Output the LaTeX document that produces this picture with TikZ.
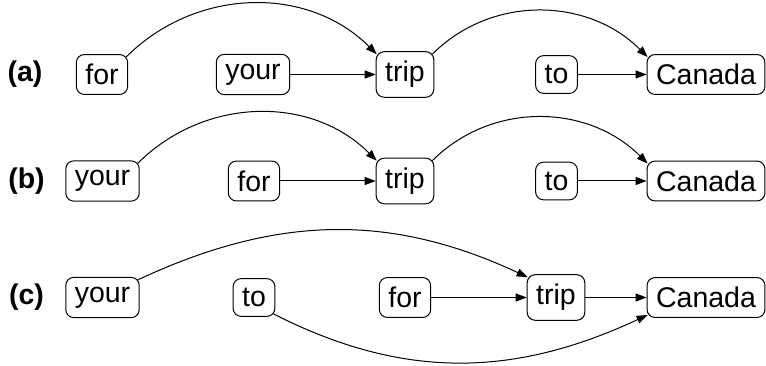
\documentclass[tikz,border=0pt]{standalone}
\usepackage{fontspec}
\setmainfont{Liberation Sans}
\usetikzlibrary{arrows.meta}
\begin{document}
\begin{tikzpicture}[x=1pt,y=1pt,
  word/.style={draw,line width=1pt,rounded corners=8pt,inner xsep=9pt,inner ysep=9.5pt,font=\fontsize{28.5}{30}\selectfont},
  lab/.style={font=\bfseries\fontsize{28.5}{30}\selectfont,inner sep=0pt},
  arr/.style={line width=1pt,-{Triangle[length=11pt,width=8pt]}}]
\useasboundingbox (0,0) rectangle (766,366);
% row a
\node[lab] (la) at (25,291.5) {(a)};
\node[word] (a1) at (102,291.5) {for};
\node[word] (a2) at (253,291.5) {your};
\node[word] (a3) at (405,291.5) {trip};
\node[word] (a4) at (556.5,291.5) {to};
\node[word] (a5) at (706,291.5) {Canada};
\draw[arr] ([xshift=-2pt,yshift=-3pt]a1.north east) to[out=45,in=135] ([xshift=1pt,yshift=-3pt]a3.north west);
\draw[arr] (a2) -- (a3);
\draw[arr] ([xshift=-2pt,yshift=-3pt]a3.north east) to[out=45,in=135] ([xshift=1pt,yshift=-3pt]a5.north west);
\draw[arr] (a4) -- (a5);
% row b
\node[lab] (lb) at (26.5,185) {(b)};
\node[word] (b1) at (102.5,185) {your};
\node[word] (b2) at (254,185) {for};
\node[word] (b3) at (405,185) {trip};
\node[word] (b4) at (556.5,185) {to};
\node[word] (b5) at (706,185) {Canada};
\draw[arr] ([xshift=-2pt,yshift=-3pt]b1.north east) to[out=45,in=135] ([xshift=1pt,yshift=-3pt]b3.north west);
\draw[arr] (b2) -- (b3);
\draw[arr] ([xshift=-2pt,yshift=-3pt]b3.north east) to[out=45,in=135] ([xshift=1pt,yshift=-3pt]b5.north west);
\draw[arr] (b4) -- (b5);
% row c
\node[lab] (lc) at (26.5,68.5) {(c)};
\node[word] (c1) at (102.5,68.5) {your};
\node[word] (c2) at (254,68.5) {to};
\node[word] (c3) at (405,68.5) {for};
\node[word] (c4) at (556,68.5) {trip};
\node[word] (c5) at (706,68.5) {Canada};
\draw[arr] ([xshift=-2pt,yshift=-3pt]c1.north east) to[out=25,in=155] ([xshift=1pt,yshift=-3pt]c4.north west);
\draw[arr] (c3) -- (c4);
\draw[arr] (c4) -- (c5);
\draw[arr] ([xshift=-2pt,yshift=3pt]c2.south east) to[out=-27,in=-155] ([xshift=1pt,yshift=3pt]c5.south west);
\end{tikzpicture}
\end{document}
